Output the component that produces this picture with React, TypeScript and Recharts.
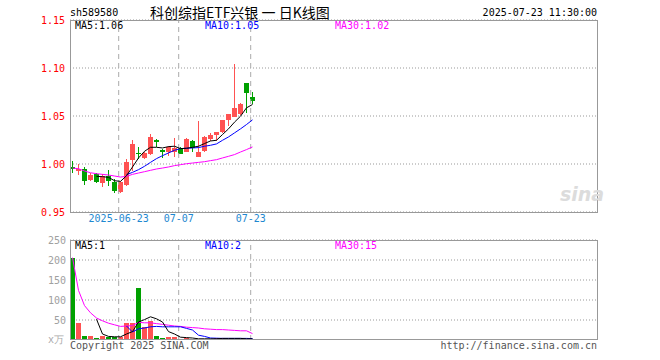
import React from "react";
import { ComposedChart, Bar, Line, XAxis, YAxis, CartesianGrid, ReferenceLine } from "recharts";

// daily candles, 2025-06-11 .. 2025-07-23
const open = [0.9965, 0.993, 0.995, 0.983, 0.99, 0.98, 0.988, 0.981, 0.971, 0.978, 1.004, 1.011, 1.006, 1.01, 1.025, 1.015, 1.012, 1.013, 1.017, 1.013, 1.024, 1.007, 1.014, 1.026, 1.03, 1.033, 1.046, 1.049, 1.052, 1.084, 1.07];
const close = [0.995, 0.995, 0.982, 0.989, 0.981, 0.988, 0.982, 0.972, 0.981, 1.002, 1.021, 1.01, 1.011, 1.028, 1.023, 1.012, 1.018, 1.017, 1.01, 1.026, 1.017, 1.013, 1.028, 1.03, 1.033, 1.046, 1.052, 1.058, 1.063, 1.074, 1.066];
const high = [1.0035, 1.0, 0.997, 0.991, 0.991, 0.99, 0.994, 0.984, 0.982, 1.005, 1.025, 1.018, 1.012, 1.031, 1.026, 1.016, 1.019, 1.027, 1.018, 1.027, 1.025, 1.045, 1.029, 1.032, 1.033, 1.046, 1.052, 1.104, 1.064, 1.084, 1.075];
const low = [0.991, 0.989, 0.978, 0.982, 0.98, 0.976, 0.977, 0.97, 0.97, 0.977, 0.993, 1.005, 1.005, 1.009, 1.018, 1.006, 1.008, 1.007, 1.01, 1.012, 1.013, 1.007, 1.013, 1.024, 1.024, 1.032, 1.04, 1.049, 1.051, 1.053, 1.062];

const ma5 = [null, null, null, null, 0.9871, 0.9868, 0.9861, 0.9826, 0.9819, 0.9878, 0.9969, 1.0063, 1.0132, 1.0174, 1.0174, 1.0167, 1.0181, 1.0185, 1.016, 1.0164, 1.0174, 1.0185, 1.0213, 1.024, 1.0247, 1.0307, 1.0366, 1.0436, 1.0498, 1.0585, 1.062];
const ma10 = [null, null, null, null, null, null, null, null, null, 0.9889, 0.9913, 0.9941, 0.9976, 1.0017, 1.0056, 1.0087, 1.0115, 1.0143, 1.016, 1.0164, 1.0167, 1.0171, 1.0185, 1.0195, 1.0209, 1.0247, 1.0282, 1.0324, 1.0366, 1.0411, 1.046];
const ma30 = [0.9958, 0.9951, 0.9927, 0.9909, 0.9899, 0.9892, 0.9885, 0.9875, 0.9864, 0.9871, 0.9892, 0.9906, 0.992, 0.9934, 0.9948, 0.9958, 0.9969, 0.9983, 0.9993, 1.0003, 1.001, 1.0017, 1.0024, 1.0035, 1.0045, 1.0063, 1.008, 1.0098, 1.0125, 1.015, 1.0178];

// volume, 万
const vol = [206, 42, 11, 11, 6, 11, 7, 7, 7, 42, 43, 131, 33, 47, 11, 6, 7, 7, 2, 5, 3, 3, 3, 3, 6, 6, 3, 3, 3, 2, 2];
const volMa5 = [null, null, null, null, 52, 15, 9, 8, 8, 15, 21, 45, 51, 58, 53, 45, 21, 15, 7, 6, 5, 3, 3, 3, 3, 4, 4, 4, 4, 3, 3];
const volMa10 = [null, null, null, null, null, null, null, null, null, 35, 20, 28, 30, 33, 34, 33, 33, 33, 33, 29, 25, 12, 9, 5, 4.5, 4, 4, 4, 4, 4, 3.5];
const volMa30 = [206, 124, 86, 68, 55, 48, 42, 38, 34, 35, 36, 44, 43, 43, 41, 39, 37, 35, 34, 32, 31, 30, 28, 27, 26, 26, 25, 24, 23, 23, 16];

const tickIdx = [8, 18, 30];
const tickLabels = ["2025-06-23", "07-07", "07-23"];
const priceTicks = [0.95, 1.0, 1.05, 1.1, 1.15];
const volTicks = [50, 100, 150, 200, 250];

const RED = "#ff5252";
const GREEN = "#00a000";
const MONO = "'DejaVu Sans Mono', monospace";
const X_DOMAIN = [-0.4167, 87.4167];

const rows = open.map((o, i) => ({
    i,
    open: o,
    close: close[i],
    high: high[i],
    low: low[i],
    up: close[i] >= o,
    ma5: ma5[i],
    ma10: ma10[i],
    ma30: ma30[i],
    vol: vol[i],
    vma5: volMa5[i],
    vma10: volMa10[i],
    vma30: volMa30[i],
}));

const Candle = (props: any) => {
    const { x, y, width, height, payload } = props;
    if (!payload || height == null) return null;
    const top = Math.min(y, y + height);
    const h = Math.abs(height);
    const k = h / (payload.high - payload.low);
    const yO = top + (payload.high - payload.open) * k;
    const yC = top + (payload.high - payload.close) * k;
    const color = payload.up ? RED : GREEN;
    const cx = Math.round(x + width / 2) + 0.5;
    return (
        <g shapeRendering="crispEdges">
            <line x1={cx} x2={cx} y1={top} y2={top + h} stroke={color} />
            <rect x={x} y={Math.min(yO, yC)} width={width} height={Math.max(1, Math.abs(yO - yC))} fill={color} />
        </g>
    );
};

const VolBar = (props: any) => {
    const { x, y, width, height, payload } = props;
    if (!payload) return null;
    return (
        <rect
            x={x}
            y={Math.min(y, y + height)}
            width={width}
            height={Math.abs(height)}
            fill={payload.up ? RED : GREEN}
            shapeRendering="crispEdges"
        />
    );
};

const txt = (extra: React.CSSProperties): React.CSSProperties => ({
    position: "absolute",
    fontFamily: MONO,
    fontSize: 10,
    lineHeight: "10px",
    whiteSpace: "nowrap",
    ...extra,
});

const frame = (top: number, height: number): React.CSSProperties => ({
    position: "absolute",
    left: 70,
    top,
    width: 528,
    height,
    boxSizing: "border-box",
    border: "1px solid #999",
    pointerEvents: "none",
});

export default function App() {
    return (
        <div style={{ position: "absolute", left: 0, top: 0, width: 660, height: 360, background: "#fff", overflow: "hidden" }}>
            <div style={{ position: "absolute", left: 0, top: 0 }}>
                <ComposedChart width={600} height={230} data={rows} margin={{ top: 20, right: 3, left: 0, bottom: 0 }}>
                    <CartesianGrid vertical={false} stroke="#999" strokeDasharray="1 2" />
                    <XAxis
                        dataKey="i"
                        type="number"
                        domain={X_DOMAIN}
                        allowDataOverflow
                        height={18}
                        ticks={tickIdx.map((t) => t - 0.3)}
                        tickFormatter={(_v: number, idx: number) => tickLabels[idx]}
                        axisLine={false}
                        tickLine={false}
                        tickSize={0}
                        tickMargin={3}
                        interval={0}
                        tick={{ fill: "#1e88d0", fontSize: 10, fontFamily: MONO }}
                    />
                    <YAxis
                        domain={[0.95, 1.15]}
                        ticks={priceTicks}
                        allowDataOverflow
                        width={70}
                        axisLine={false}
                        tickLine={false}
                        tickSize={0}
                        tickMargin={5}
                        interval={0}
                        tickFormatter={(v: number) => v.toFixed(2)}
                        tick={{ fill: "#ff0000", fontSize: 10, fontFamily: MONO }}
                    />
                    {tickIdx.map((t) => (
                        <ReferenceLine key={t} x={t - 0.3} stroke="#aaa" strokeDasharray="5 4" />
                    ))}
                    <Bar dataKey={(d: any) => [d.low, d.high]} barSize={5} shape={Candle} isAnimationActive={false} />
                    <Line dataKey="ma30" stroke="#ff00ff" dot={false} strokeWidth={1} isAnimationActive={false} />
                    <Line dataKey="ma10" stroke="#0000ff" dot={false} strokeWidth={1} isAnimationActive={false} />
                    <Line dataKey="ma5" stroke="#000" dot={false} strokeWidth={1} isAnimationActive={false} />
                </ComposedChart>
            </div>
            <div style={{ position: "absolute", left: 0, top: 230 }}>
                <ComposedChart width={600} height={110} data={rows} margin={{ top: 10, right: 3, left: 0, bottom: 0 }}>
                    <CartesianGrid vertical={false} stroke="#999" strokeDasharray="1 2" />
                    <XAxis dataKey="i" type="number" domain={X_DOMAIN} allowDataOverflow hide />
                    <YAxis
                        domain={[0, 250]}
                        ticks={volTicks}
                        allowDataOverflow
                        width={70}
                        axisLine={false}
                        tickLine={false}
                        tickSize={0}
                        tickMargin={4}
                        interval={0}
                        tick={{ fill: "#a0a0a0", fontSize: 10, fontFamily: MONO }}
                    />
                    {tickIdx.map((t) => (
                        <ReferenceLine key={t} x={t - 0.3} stroke="#aaa" strokeDasharray="5 4" />
                    ))}
                    <Bar dataKey="vol" barSize={5} shape={VolBar} isAnimationActive={false} />
                    <Line dataKey="vma30" stroke="#ff00ff" dot={false} strokeWidth={1} isAnimationActive={false} />
                    <Line dataKey="vma10" stroke="#0000ff" dot={false} strokeWidth={1} isAnimationActive={false} />
                    <Line dataKey="vma5" stroke="#000" dot={false} strokeWidth={1} isAnimationActive={false} />
                </ComposedChart>
            </div>

            <div style={frame(20, 193)} />
            <div style={frame(240, 100)} />

            <div style={txt({ left: 70, top: 8, color: "#000" })}>sh589580</div>
            <div
                style={{
                    position: "absolute",
                    left: 150,
                    top: 3,
                    fontFamily: "'Noto Sans CJK SC', sans-serif",
                    fontSize: 14,
                    lineHeight: "18px",
                    color: "#000",
                    whiteSpace: "nowrap",
                }}
            >
                科创综指ETF兴银 一 日K线图
            </div>
            <div style={txt({ right: 63, top: 8, color: "#000" })}>2025-07-23 11:30:00</div>

            <div style={txt({ left: 75, top: 21, color: "#000" })}>MA5:1.06</div>
            <div style={txt({ left: 205, top: 21, color: "#0000ff" })}>MA10:1.05</div>
            <div style={txt({ left: 335, top: 21, color: "#ff00ff" })}>MA30:1.02</div>

            <div style={txt({ left: 75, top: 241, color: "#000" })}>MA5:1</div>
            <div style={txt({ left: 205, top: 241, color: "#0000ff" })}>MA10:2</div>
            <div style={txt({ left: 335, top: 241, color: "#ff00ff" })}>MA30:15</div>

            <div style={txt({ left: 48, top: 335, color: "#aaa" })}>x万</div>
            <div style={txt({ left: 70, top: 341, color: "#555" })}>Copyright 2025 SINA.COM</div>
            <div style={txt({ right: 63, top: 341, color: "#555" })}>http://finance.sina.com.cn</div>

            <div
                style={{
                    position: "absolute",
                    left: 560,
                    top: 184,
                    fontFamily: "'DejaVu Sans', sans-serif",
                    fontSize: 19,
                    fontWeight: "bold",
                    fontStyle: "italic",
                    color: "#dcdcdc",
                    lineHeight: "20px",
                }}
            >
                sina
            </div>
        </div>
    );
}
